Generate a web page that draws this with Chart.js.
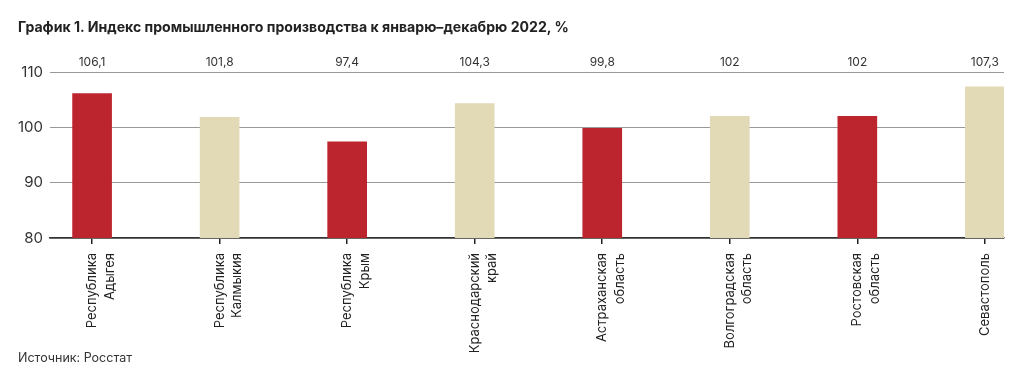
<!DOCTYPE html>
<html>
<head>
<meta charset="utf-8">
<script src="https://cdn.jsdelivr.net/npm/chart.js@4"></script>
<style>
  body { margin: 0; background: #fff; font-family: Inter, sans-serif; }
  #wrap { position: relative; width: 1024px; height: 384px; }
  #title { position: absolute; left: 18px; top: 18px; font-size: 14.1px; font-weight: 700; color: #222; }
  #source { position: absolute; left: 18px; top: 350px; font-size: 12.5px; color: #333; }
  canvas { position: absolute; left: 0; top: 0; }
</style>
</head>
<body>
<div id="wrap">
  <canvas id="chart" width="1024" height="384"></canvas>
  <div id="title">График 1. Индекс промышленного производства к январю–декабрю 2022, %</div>
  <div id="source">Источник: Росстат</div>
</div>
<script>
// data
const regions = [
    ['Республика', 'Адыгея'],
    ['Республика', 'Калмыкия'],
    ['Республика', 'Крым'],
    ['Краснодарский', 'край'],
    ['Астраханская', 'область'],
    ['Волгоградская', 'область'],
    ['Ростовская', 'область'],
    ['Севастополь']
]
const values = [106.1, 101.8, 97.4, 104.3, 99.8, 102, 102, 107.3]
const yTicks = [80, 90, 100, 110]

const red = 'rgb(188, 36, 46)'
const beige = 'rgb(226, 217, 183)'

Chart.defaults.font.family = 'Inter'
Chart.defaults.color = '#333'

// value labels over the plot, one per bar
const topLabels = {
    id: 'topLabels',
    afterDatasetsDraw(chart) {
        const ctx = chart.ctx
        const meta = chart.getDatasetMeta(0)
        ctx.save()
        ctx.font = '12px Inter'
        ctx.fillStyle = '#333'
        ctx.textAlign = 'center'
        ctx.textBaseline = 'middle'
        meta.data.forEach((bar, i) => {
            ctx.fillText(String(values[i]).replace('.', ','), bar.x, chart.chartArea.top - 10)
        })
        ctx.restore()
    }
}

const points = values.map((v, i) => ({ x: i, y: v }))

new Chart(document.getElementById('chart'), {
    type: 'bar',
    data: {
        datasets: [{
            data: points,
            backgroundColor: (c) => c.dataIndex % 2 ? beige : red,
            barThickness: 39
        }]
    },
    options: {
        responsive: false,
        animation: false,
        layout: { padding: { top: 72, right: 20, left: 0, bottom: 0 } },
        plugins: { legend: { display: false }, tooltip: { enabled: false } },
        scales: {
            x: {
                type: 'linear',
                offset: false,
                min: -0.33,
                max: 7.15,
                afterBuildTicks: (s) => { s.ticks = regions.map((r, i) => ({ value: i })) },
                afterFit: (s) => { s.height = 146 },
                ticks: {
                    autoSkip: false,
                    minRotation: 90,
                    maxRotation: 90,
                    padding: 9,
                    font: { size: 13, lineHeight: 1.35 },
                    color: '#222',
                    callback: (v) => regions[v]
                },
                grid: { offset: false, drawOnChartArea: false, drawTicks: true, tickLength: 6, color: '#222', lineWidth: 1.5 },
                border: { display: true, color: '#333', width: 1.5 }
            },
            y: {
                min: 80,
                max: 110,
                afterBuildTicks: (s) => { s.ticks = yTicks.map(v => ({ value: v })) },
                afterFit: (s) => { s.width = 50 },
                ticks: { padding: 7, font: { size: 15 }, color: '#333' },
                grid: { color: '#999', lineWidth: 1, drawTicks: false },
                border: { display: false }
            }
        }
    },
    plugins: [topLabels]
})
</script>
</body>
</html>
